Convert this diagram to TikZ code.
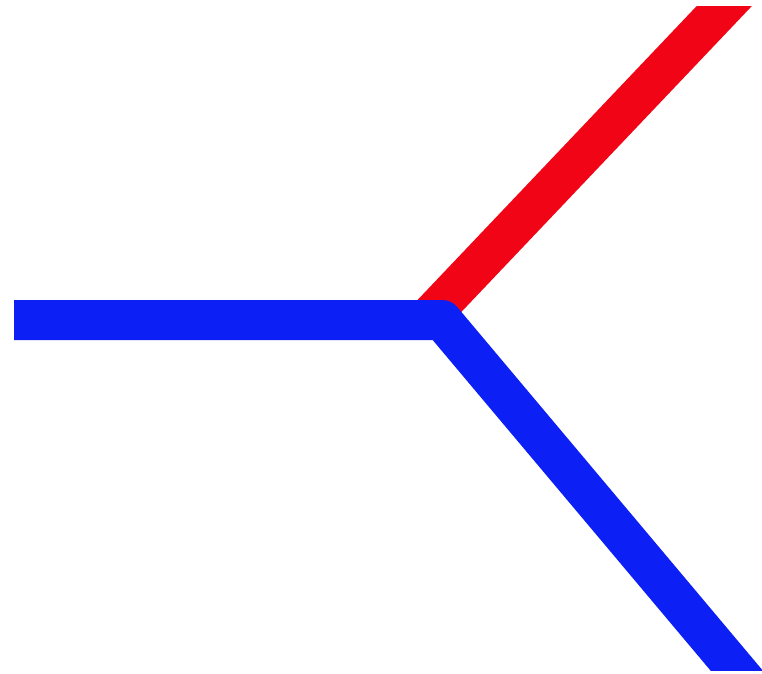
\documentclass[tikz,border=0pt]{standalone}
\definecolor{redline}{RGB}{240,4,22}
\definecolor{blueline}{RGB}{12,32,245}
\tikzset{
  thick line/.style={line width=40pt, line cap=butt, line join=round},
}
\begin{document}
\begin{tikzpicture}[x=1pt,y=-1pt]
\useasboundingbox (0,0) rectangle (762,673);
\coordinate (left) at (14,320);
\coordinate (junction) at (442,320);
\coordinate (redstart) at (428,318);
\coordinate (redend) at (749,-20);
\coordinate (blueend) at (753,690);
\begin{scope}
\clip (14,6) rectangle (762,670);
\draw[thick line, redline] (redstart) -- (redend);
\draw[thick line, blueline] (left) -- (junction) -- (blueend);
\end{scope}
\end{tikzpicture}
\end{document}
